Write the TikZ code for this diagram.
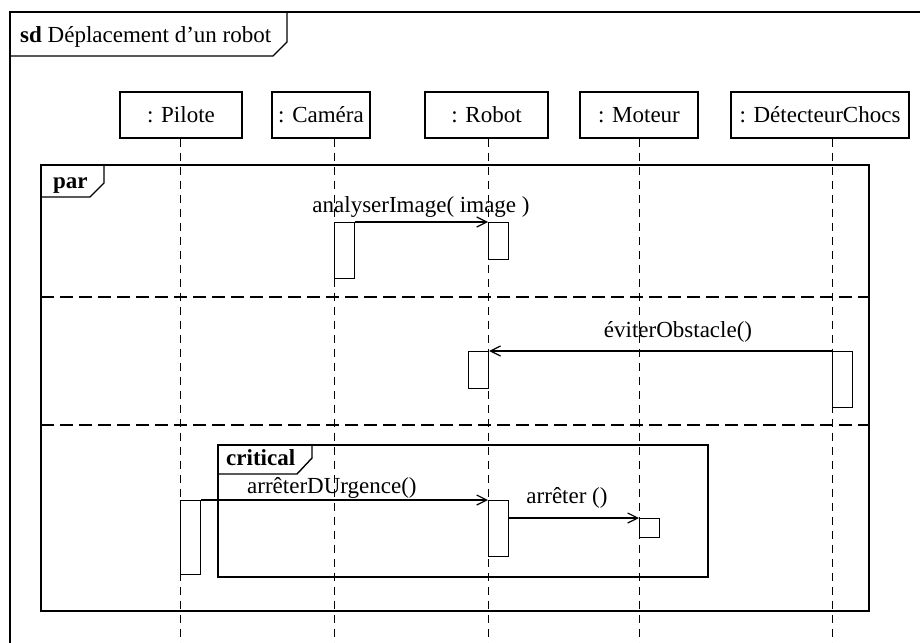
\documentclass[tikz,border=0pt]{standalone}
\usepackage{fontspec}
\setmainfont{Liberation Serif}
\usetikzlibrary{arrows.meta}
\begin{document}
\begin{tikzpicture}[x=1pt,y=-1pt,
  every node/.style={font=\fontsize{23}{27}\selectfont},
  head/.style={draw, line width=1.2pt, minimum height=46pt, inner sep=0pt},
  lifeline/.style={line width=1pt, dash pattern=on 8pt off 6pt},
  sepline/.style={line width=1.1pt, dash pattern=on 13pt off 6pt},
  frame/.style={line width=1.4pt},
  act/.style={draw, fill=white, line width=1.2pt, minimum width=20pt, inner sep=0pt, anchor=north west},
  msg/.style={line width=1.2pt, -{Straight Barb[length=10pt,width=10pt,line width=1.2pt]}},
  lbl/.style={inner sep=0pt, anchor=base},
  tablbl/.style={inner sep=0pt, anchor=base west, font=\fontsize{23}{27}\selectfont\bfseries}]
\useasboundingbox (0,0) rectangle (920,642);
\clip (0,0) rectangle (920,642);

% lifeline heads
\node[head, minimum width=122pt] (pilote) at (181,115) {: Pilote};
\node[head, minimum width=98pt] (camera) at (321,115) {: Caméra};
\node[head, minimum width=123pt] (robot) at (486.5,115) {: Robot};
\node[head, minimum width=118pt] (moteur) at (639,115) {: Moteur};
\node[head, minimum width=178pt] (detect) at (820,115) {: DétecteurChocs};

% lifeline ends
\coordinate (pilEnd) at (180,660);
\coordinate (camEnd) at (334,660);
\coordinate (robEnd) at (488,660);
\coordinate (motEnd) at (639,660);
\coordinate (detEnd) at (832,660);

\draw[lifeline] (pilote.south -| pilEnd) -- (pilEnd);
\draw[lifeline] (camera.south -| camEnd) -- (camEnd);
\draw[lifeline] (robot.south -| robEnd) -- (robEnd);
\draw[lifeline] (moteur.south -| motEnd) -- (motEnd);
\draw[lifeline] (detect.south -| detEnd) -- (detEnd);

% outer sd frame
\draw[frame] (10,660) -- (10,12) -- (930,12);
\draw[frame] (10,56) -- (273,56) -- (287,42) -- (287,12);
\node[tablbl, font=\fontsize{23}{27}\selectfont] (sdl) at (20,43) {\textbf{sd} Déplacement d’un robot};

% par frame
\draw[frame] (41,165) rectangle (869,611);
\draw[frame] (41,197) -- (90,197) -- (104,183) -- (104,165);
\node[tablbl] (parl) at (53,188) {par};
\draw[sepline] (41,297) -- (869,297);
\draw[sepline] (41,425) -- (869,425);

% critical frame
\draw[frame] (218,445) rectangle (708,577);
\draw[frame] (218,474) -- (297,474) -- (312,458) -- (312,445);
\node[tablbl] (critl) at (226,465) {critical};

% activations
\node[act, minimum height=56pt] (camA) at (334,222) {};
\node[act, minimum height=37pt] (robA1) at (488,222) {};
\node[act, minimum height=56pt] (detA) at (832,351) {};
\node[act, minimum height=37pt] (robA2) at (468,351) {};
\node[act, minimum height=74pt] (pilA) at (180,500) {};
\node[act, minimum height=56pt] (robA3) at (488,500) {};
\node[act, minimum height=19pt] (motA) at (639,518) {};

% messages
\draw[msg] (camA.north east) -- (robA1.north west);
\draw[msg] (detA.north west) -- (robA2.north east);
\draw[msg] (pilA.north east) -- (robA3.north west);
\draw[msg] (robA3.east |- motA.north) -- (motA.north west);

% message labels
\node[lbl] (l1) at (421,212) {analyserImage( image )};
\node[lbl] (l2) at (678,337) {éviterObstacle()};
\node[lbl, anchor=base west] (l3) at (247,493) {arrêterDUrgence()};
\node[lbl] (l4) at (567,503) {arrêter ()};
\end{tikzpicture}
\end{document}
